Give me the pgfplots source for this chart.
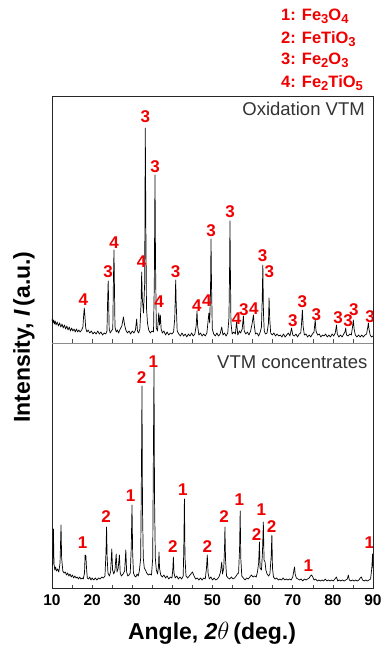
\documentclass[border=0pt]{standalone}
\usepackage{fontspec}
\setmainfont{Liberation Sans}
\usepackage{pgfplots}
\pgfplotsset{compat=1.18}
\definecolor{lbl}{RGB}{240,0,0}
\newcommand{\pk}[3]{\node[text=lbl,font=\fontsize{17}{17}\selectfont\bfseries,inner sep=0pt] at (axis cs:#1,#2) {#3};}
\newcommand{\sub}[1]{\raisebox{-0.32ex}{\fontsize{13}{13}\selectfont #1}}
\begin{document}
\begin{tikzpicture}
\pgfplotsset{
  xrd/.style={
    scale only axis, width=321pt, xmin=10, xmax=90,
    axis line style={black!85, line width=0.8pt},
    xtick={10,20,...,90}, minor xtick={15,25,...,85},
    ytick=\empty, tick align=inside, xtick pos=bottom,
    major tick length=3.5pt, minor tick length=3.5pt,
    every tick/.style={black!70, line width=0.6pt},
    /pgf/number format/assume math mode=true,
  }
}
% ---------- bottom panel ----------
\begin{axis}[xrd, name=bot, at={(0pt,0pt)}, anchor=south west, height=245pt, ymin=0, ymax=245,
  xticklabel style={font=\fontsize{15.5}{15.5}\selectfont\bfseries, inner sep=0pt, yshift=-6pt}]
\coordinate (B0) at (rel axis cs:0,0);
\coordinate (B1) at (rel axis cs:0,1);
\addplot[black, line width=0.7pt, line join=round] table {
10.0 22
10.2 24
10.35 59
10.5 24
10.7 18
10.9 21
11.1 17
11.4 19
11.7 16
12.0 25
12.25 63
12.4 30
12.7 17
13.0 15
13.3 16
13.6 13
13.9 15
14.2 12
14.5 14
14.8 11
15.1 13
15.4 10
15.7 12
16.0 10
16.3 11
16.6 9
16.9 11
17.2 9
17.5 10
17.8 9
18.1 15
18.25 33
18.45 32
18.6 20
18.8 10
19.1 9
19.4 11
19.7 8
20.0 10
20.4 8
20.8 10
21.2 8
21.6 10
22.0 9
22.4 11
22.8 10
23.2 12
23.45 35
23.6 61
23.75 30
23.95 15
24.3 12
24.6 16
24.9 39
25.1 18
25.4 14
25.7 18
26.0 34
26.2 16
26.5 20
26.8 33
27.0 15
27.3 12
27.7 14
28.1 17
28.4 38
28.6 16
28.9 12
29.2 13
29.5 15
29.75 40
29.94 83
30.1 35
30.3 15
30.6 12
30.9 11
31.2 14
31.5 12
31.8 18
32.1 30
32.3 120
32.43 202
32.55 80
32.75 30
33.0 20
33.3 18
33.6 15
34.0 13
34.4 14
34.8 13
35.1 30
35.3 150
35.42 223
35.55 90
35.75 30
36.0 18
36.3 14
36.55 22
36.67 36
36.8 20
37.1 13
37.5 11
37.9 13
38.3 10
38.7 12
39.1 9
39.5 11
39.9 10
40.1 18
40.25 31
40.4 15
40.7 10
41.1 12
41.5 9
41.9 11
42.3 9
42.7 12
42.85 40
43.0 89
43.15 30
43.4 12
43.8 10
44.2 12
44.6 14
45.0 16
45.4 12
45.8 9
46.2 10
46.6 8
47.0 10
47.4 8
47.8 10
48.2 9
48.5 20
48.7 33
48.9 15
49.2 9
49.6 11
50.0 8
50.4 10
50.8 8
51.2 9
51.6 11
52.0 16
52.3 26
52.5 14
52.8 20
53.0 40
53.1 61
53.25 28
53.5 12
53.9 10
54.3 9
54.7 11
55.1 9
55.5 10
55.9 12
56.2 14
56.5 15
56.75 40
56.9 77
57.05 30
57.3 12
57.7 10
58.1 8
58.5 10
58.9 9
59.3 11
59.7 13
60.1 11
60.5 12
60.9 11
61.2 16
61.5 25
61.7 46
61.85 20
62.2 18
62.45 35
62.67 66
62.85 28
63.1 26
63.3 18
63.6 14
64.0 12
64.3 14
64.6 30
64.8 53
64.95 20
65.2 11
65.6 9
66.0 10
66.4 8
66.8 9
67.2 8
67.6 10
68.0 8
68.4 9
68.8 8
69.2 9
69.6 8
70.0 11
70.3 18
70.45 21
70.6 14
70.9 10
71.3 9
71.7 8
72.1 9
72.5 7
72.9 9
73.3 8
73.7 9
74.1 10
74.4 12
74.7 13
75.0 11
75.3 8
75.7 9
76.1 7
76.5 8
76.9 7
77.3 8
77.7 7
78.1 9
78.5 7
78.9 8
79.3 7
79.7 8
80.1 7
80.5 9
80.9 11
81.2 7
81.6 8
82.0 7
82.4 8
82.8 7
83.2 8
83.6 9
83.85 13
84.1 8
84.5 7
84.9 8
85.3 7
85.7 8
86.1 7
86.5 8
86.8 10
87.1 11
87.4 8
87.8 7
88.2 8
88.6 7
89.0 8
89.4 9
89.7 20
89.9 34
90.0 20
};
\pk{17.65}{45}{1}
\pk{23.5}{71}{2}
\pk{29.6}{92}{1}
\pk{32.35}{210}{2}
\pk{35.25}{226}{1}
\pk{40.1}{41}{2}
\pk{42.6}{98}{1}
\pk{48.7}{41}{2}
\pk{52.9}{71}{2}
\pk{56.7}{88}{1}
\pk{61.0}{53}{2}
\pk{62.2}{78}{1}
\pk{64.75}{61}{2}
\pk{73.9}{22}{1}
\pk{89.1}{45}{1}
\node[anchor=north east, inner sep=0pt, text=black!80, font=\fontsize{18.5}{18.5}\selectfont] at (rel axis cs:0.983,0.95) {VTM concentrates};
\end{axis}
% ---------- top panel ----------
\begin{axis}[xrd, at={(B1)}, anchor=south west, height=247pt, ymin=0, ymax=247, xticklabels=\empty]
\addplot[black, line width=0.7pt, line join=round] table {
10.0 24
10.2 20
10.4 23
10.6 19
10.8 22
11.0 18
11.3 21
11.6 17
11.9 20
12.2 16
12.5 19
12.8 15
13.1 18
13.4 14
13.7 17
14.0 13
14.3 16
14.6 12
14.9 15
15.2 12
15.5 14
15.8 11
16.1 14
16.4 11
16.7 13
17.0 11
17.4 13
17.7 16
17.9 28
18.05 35
18.2 27
18.4 15
18.7 11
19.0 13
19.4 10
19.8 12
20.2 9
20.6 11
21.0 9
21.4 12
21.8 9
22.2 11
22.6 8
23.0 10
23.4 9
23.7 12
23.85 40
24.0 62
24.1 45
24.25 14
24.5 10
24.8 12
25.15 14
25.3 60
25.45 93
25.55 60
25.7 16
26.0 11
26.3 13
26.6 10
27.0 14
27.4 17
27.8 26
28.1 18
28.4 13
28.8 10
29.2 12
29.6 9
30.0 12
30.4 10
30.8 13
31.1 24
31.3 12
31.6 10
31.9 14
32.2 40
32.35 71
32.5 45
32.8 30
33.1 60
33.25 215
33.4 110
33.55 35
33.8 20
34.1 13
34.5 10
34.9 12
35.3 11
35.5 60
35.67 168
35.8 80
36.0 15
36.3 12
36.6 30
36.8 18
37.0 28
37.2 14
37.5 10
37.9 12
38.3 8
38.7 11
39.1 8
39.5 10
39.9 9
40.3 11
40.6 25
40.83 63
40.95 40
41.2 12
41.6 9
42.0 7
42.4 10
42.8 7
43.2 9
43.6 6
44.0 9
44.4 7
44.8 10
45.2 7
45.6 9
45.95 18
46.14 32
46.3 17
46.6 8
47.0 10
47.4 7
47.8 9
48.2 7
48.6 10
48.9 22
49.1 30
49.3 20
49.5 50
49.63 104
49.75 60
49.95 14
50.3 9
50.7 7
51.1 10
51.5 7
51.9 9
52.3 16
52.6 8
53.0 10
53.4 7
53.8 10
54.1 25
54.25 70
54.36 122
54.45 77
54.6 20
54.9 9
55.3 11
55.7 9
56.0 21
56.3 8
56.7 12
57.0 10
57.4 14
57.7 27
57.9 12
58.3 9
58.7 11
59.1 8
59.5 12
59.9 20
60.2 28
60.4 18
60.7 9
61.1 10
61.5 7
61.9 11
62.2 16
62.4 45
62.55 78
62.7 30
62.9 12
63.2 9
63.6 10
63.95 20
64.1 45
64.25 25
64.5 10
64.9 8
65.3 10
65.7 7
66.1 9
66.5 7
66.9 8
67.3 6
67.7 9
68.1 6
68.5 8
68.9 10
69.3 7
69.7 15
70.0 8
70.4 7
70.8 9
71.2 6
71.6 9
72.0 10
72.2 20
72.4 33
72.6 16
72.9 8
73.3 9
73.7 6
74.1 8
74.5 6
74.9 9
75.3 11
75.6 23
75.8 12
76.2 8
76.6 9
77.0 6
77.4 8
77.8 7
78.2 9
78.6 6
79.0 8
79.4 6
79.8 9
80.2 7
80.6 10
80.9 18
81.1 9
81.5 6
81.9 8
82.3 6
82.7 9
83.0 11
83.2 15
83.4 8
83.8 7
84.2 9
84.6 8
84.9 16
85.1 23
85.3 14
85.6 8
86.0 6
86.4 8
86.8 6
87.2 8
87.6 6
88.0 8
88.4 9
88.7 16
88.85 20
89.0 14
89.3 8
89.6 6
90.0 7
};
\pk{17.8}{43}{4}
\pk{24.0}{71}{3}
\pk{25.45}{100}{4}
\pk{32.35}{81}{4}
\pk{33.25}{226}{3}
\pk{35.67}{176}{3}
\pk{36.67}{41}{4}
\pk{40.83}{71}{3}
\pk{46.1}{37}{4}
\pk{48.6}{42}{4}
\pk{49.63}{112}{3}
\pk{54.36}{131}{3}
\pk{56.0}{24}{4}
\pk{57.8}{33}{3}
\pk{60.3}{34}{4}
\pk{62.5}{87}{3}
\pk{64.2}{71}{3}
\pk{70.0}{22}{3}
\pk{72.4}{41}{3}
\pk{75.9}{28}{3}
\pk{81.3}{25}{3}
\pk{83.8}{22}{3}
\pk{85.2}{33}{3}
\pk{89.3}{26}{3}
\node[anchor=north east, inner sep=0pt, text=black!80, font=\fontsize{18.5}{18.5}\selectfont] at (rel axis cs:0.975,0.977) {Oxidation VTM};
\end{axis}
\begin{scope}[shift={(B0)}, x=1pt, y=1pt]
\draw[black!45, line width=0.8pt] (0,245) -- (321,245);
% axis labels
\node[anchor=base, font=\fontsize{23}{23}\selectfont\bfseries] at (160,-51) {Angle, \textit{2}$\theta$\,(deg.)};
\node[anchor=base, rotate=90, font=\fontsize{23}{23}\selectfont\bfseries] at (-22,251) {Intensity, \textit{I}\,(a.u.)};
% phase legend
\begin{scope}[every node/.style={anchor=base west, inner sep=0pt, text=lbl, font=\fontsize{16.5}{16.5}\selectfont\bfseries}]
\node at (229,567.3) {1: Fe\sub{3}O\sub{4}};
\node at (229,544.7) {2: FeTiO\sub{3}};
\node at (229,523) {3: Fe\sub{2}O\sub{3}};
\node at (229,500.7) {4: Fe\sub{2}TiO\sub{5}};
\end{scope}
\pgfresetboundingbox
\path[use as bounding box] (-52,-66) rectangle (331,588);
\end{scope}
\end{tikzpicture}
\end{document}
